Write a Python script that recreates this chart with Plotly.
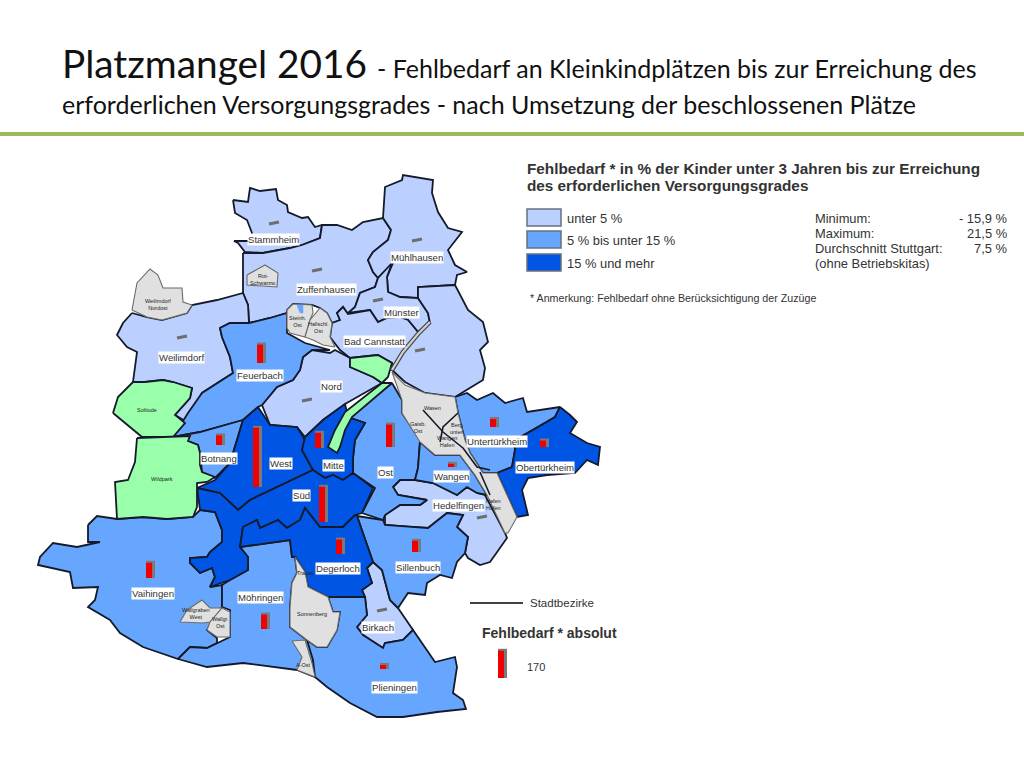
import plotly.graph_objects as go

# Farben der Klassen
hell = '#BBD0FF'
mittel = '#66A6FF'
dunkel = '#0055E5'
gruen = '#99FFAA'
grau = '#E0E0E0'
rand = '#141a2a'

# Stadtbezirke als Umrisse (Bildkoordinaten)
stammheim = [(233,200),(248,202),(250,188),(260,191),(276,189),(278,200),(287,205),(288,212),(302,218),(308,217),(315,227),(322,225),(320,238),(302,245),(290,248),(263,253),(245,252),(238,243),(234,241),(250,241),(252,233),(247,220),(235,213)]
zuffenhausen = [(243,253),(263,253),(290,248),(302,245),(320,238),(322,225),(337,225),(352,230),(363,222),(383,218),(391,230),(388,240),(373,252),(368,260),(373,272),(378,278),(375,287),(360,293),(355,307),(348,314),(343,307),(337,313),(340,320),(332,323),(327,313),(320,308),(312,305),(293,304),(287,310),(287,313),(270,318),(249,323),(248,305),(243,293)]
muehlhausen = [(383,218),(385,187),(402,180),(403,175),(433,180),(432,193),(438,212),(448,228),(462,232),(448,250),(455,265),(467,272),(457,275),(455,285),(418,287),(418,298),(400,297),(388,292),(387,277),(393,263),(378,278),(373,272),(368,260),(373,252),(388,240),(391,230)]
muenster = [(348,313),(355,307),(360,293),(375,287),(378,278),(392,263),(387,277),(388,292),(400,297),(418,298),(428,313),(430,323),(418,332),(408,320),(400,317),(387,318),(378,322),(370,310)]
cannstatt = [(332,323),(340,320),(337,313),(343,307),(348,314),(370,310),(378,322),(387,318),(400,317),(408,320),(418,332),(430,323),(428,313),(418,298),(418,287),(455,285),(468,310),(483,322),(488,342),(480,350),(485,368),(483,380),(455,397),(425,393),(405,382),(392,370),(392,363),(378,355),(350,358),(340,350),(330,337)]
weilimdorf = [(132,313),(147,317),(162,320),(187,313),(192,305),(217,300),(243,293),(248,305),(249,323),(230,323),(220,328),(222,337),(230,357),(233,373),(202,393),(187,422),(175,415),(190,398),(192,388),(173,382),(163,380),(145,382),(133,382),(137,352),(127,347),(117,335),(123,323)]
nord = [(262,405),(277,387),(293,380),(300,370),(303,357),(312,350),(330,353),(335,350),(350,358),(350,367),(373,377),(382,383),(345,404),(323,420),(305,437),(297,427),(270,425)]
hedelfingen = [(393,487),(400,480),(415,480),(433,483),(457,495),(467,487),(477,493),(485,495),(505,533),(507,538),(495,555),(490,562),(480,565),(468,558),(465,553),(468,537),(457,527),(463,515),(447,513),(428,528),(410,527),(385,525),(385,515),(400,505),(420,505),(427,500),(398,495)]
birkach = [(373,562),(382,570),(390,600),(398,608),(413,630),(403,640),(385,643),(383,648),(363,635),(357,627),(367,615),(365,597),(362,590),(372,583),(367,568)]

feuerbach = [(220,328),(230,323),(249,323),(270,318),(287,313),(287,333),(305,343),(330,350),(312,350),(303,357),(300,370),(293,380),(277,387),(262,405),(258,407),(243,420),(200,432),(173,437),(188,413),(202,393),(233,373),(230,357),(222,337)]
botnang = [(173,437),(200,432),(243,420),(237,440),(230,463),(215,478),(202,472),(200,453),(198,445),(188,441)]
ost = [(392,383),(402,400),(402,413),(420,440),(418,468),(415,480),(400,480),(393,487),(398,495),(427,500),(420,505),(400,505),(385,515),(383,520),(362,513),(375,488),(353,473),(353,458),(355,440),(365,423),(348,417)]
wangen = [(420,442),(435,455),(460,455),(475,475),(487,495),(477,493),(467,487),(457,495),(433,483),(415,480),(418,468)]
untertuerkheim = [(455,397),(467,393),(477,400),(493,393),(505,403),(523,398),(527,412),(560,407),(555,417),(533,430),(515,440),(515,450),(512,467),(497,473),(483,473),(470,453),(465,440),(458,413)]
sillenbuch = [(357,516),(383,520),(385,525),(410,527),(428,528),(447,513),(463,515),(457,527),(468,537),(465,553),(457,562),(452,578),(440,575),(427,583),(425,595),(408,593),(398,608),(390,600),(382,570),(373,562),(363,533)]
vaihingen = [(88,525),(97,516),(117,519),(143,517),(167,519),(193,517),(200,510),(215,512),(222,530),(222,542),(210,552),(207,557),(190,558),(190,563),(200,573),(212,568),(215,577),(210,587),(222,585),(222,607),(207,630),(217,638),(217,643),(207,648),(190,647),(178,659),(143,647),(120,633),(110,620),(88,607),(95,600),(98,587),(73,588),(70,572),(38,565),(40,557),(53,543),(77,547),(100,542),(88,542)]
moehringen = [(178,659),(190,647),(207,648),(217,643),(230,637),(230,610),(222,607),(222,585),(230,580),(248,570),(248,557),(240,547),(290,540),(292,557),(295,557),(297,573),(292,583),(290,607),(290,627),(307,640),(317,647),(313,660),(315,677),(297,670),(243,663),(207,667)]
plieningen = [(328,597),(362,597),(365,597),(367,615),(357,627),(363,635),(383,648),(385,643),(403,640),(413,630),(435,662),(455,657),(457,667),(453,693),(463,700),(466,709),(437,712),(403,717),(377,717),(350,703),(327,687),(315,677),(313,660),(307,640),(317,647),(327,647),(337,630),(340,612),(333,612)]

west = [(237,440),(243,420),(258,407),(270,425),(297,427),(305,440),(302,450),(313,470),(250,500),(238,510),(220,493),(197,488),(215,480),(230,463)]
mitte = [(305,437),(323,420),(345,404),(348,417),(365,423),(355,440),(353,458),(353,473),(343,480),(333,475),(325,478),(313,470),(302,450)]
sued = [(197,488),(220,493),(238,510),(250,500),(313,470),(325,478),(333,475),(343,480),(353,473),(373,488),(362,513),(355,515),(343,527),(320,527),(305,508),(300,520),(287,528),(278,520),(260,528),(257,520),(243,527),(240,547),(248,557),(248,570),(230,580),(210,587),(215,577),(212,568),(200,573),(190,563),(190,558),(207,557),(210,552),(222,542),(222,530),(215,512),(200,510)]
degerloch = [(243,527),(257,520),(260,528),(278,520),(287,528),(300,520),(305,508),(320,527),(343,527),(355,515),(357,516),(363,533),(373,562),(367,568),(372,583),(362,590),(365,597),(328,597),(308,587),(305,572),(295,557),(292,557),(290,540),(240,547)]
obertuerkheim = [(560,407),(570,415),(577,422),(570,433),(587,443),(600,447),(598,465),(587,460),(575,473),(547,475),(528,478),(522,490),(528,515),(517,517),(497,473),(512,467),(515,450),(515,440),(533,430),(555,417)]

solitude = [(113,413),(118,397),(133,382),(145,382),(163,380),(173,382),(192,388),(190,398),(175,415),(185,423),(173,437),(142,437)]
wildpark = [(137,438),(173,437),(190,436),(188,441),(198,445),(200,453),(200,465),(202,472),(215,477),(207,482),(197,483),(197,507),(193,517),(167,519),(143,517),(117,519),(115,482),(128,480),(135,462)]
schlossgarten = [(350,358),(378,355),(392,363),(388,377),(382,383),(373,377),(350,367)]
gruenstreifen = [(382,383),(392,383),(352,417),(345,430),(340,447),(337,453),(328,447),(335,430),(345,412)]

nordost = [(132,310),(137,283),(150,269),(158,275),(163,288),(182,288),(183,302),(192,305),(187,313),(162,320),(147,317)]
schnarrenberg = [(247,275),(265,265),(278,273),(277,287),(247,285)]
steinhalde = [(287,310),(293,304),(312,305),(313,313),(310,320),(305,337),(290,333),(287,328)]
hallschlag = [(305,337),(310,320),(320,308),(327,313),(332,323),(330,337),(335,347),(323,345),(313,340)]
wasen = [(392,372),(405,385),(425,393),(455,397),(458,413),(465,440),(470,453),(483,473),(497,473),(517,517),(508,533),(505,533),(487,495),(475,475),(460,455),(435,455),(420,442),(402,413),(402,400)]
wallgraben_west = [(180,622),(187,610),(202,600),(210,608),(222,608),(210,622),(203,623)]
wallgraben_ost = [(210,622),(222,608),(230,612),(230,637),(217,637),(207,630)]
sonnenberg = [(295,557),(305,572),(308,587),(328,597),(333,612),(340,612),(337,630),(327,647),(317,647),(307,640),(290,627),(290,607),(292,583),(297,573)]
asemwald = [(292,641),(305,640),(312,663),(315,677),(297,670),(302,657)]
see = [(297,305),(303,305),(303,313),(300,313)]

# Reihenfolge = Zeichenfolge
bezirke = [
    (stammheim, hell), (zuffenhausen, hell), (muehlhausen, hell), (muenster, hell),
    (cannstatt, hell), (weilimdorf, hell), (nord, hell), (hedelfingen, hell), (birkach, hell),
    (feuerbach, mittel), (botnang, mittel), (ost, mittel), (wangen, mittel),
    (untertuerkheim, mittel), (sillenbuch, mittel), (vaihingen, mittel), (moehringen, mittel),
    (plieningen, mittel), (west, dunkel), (mitte, dunkel), (sued, dunkel), (degerloch, dunkel),
    (obertuerkheim, dunkel), (solitude, gruen), (wildpark, gruen), (schlossgarten, gruen),
    (gruenstreifen, gruen),
]
sonderflaechen = [nordost, schnarrenberg, steinhalde, hallschlag, wasen, wallgraben_west,
                  wallgraben_ost, sonnenberg, asemwald]

# Neckar und Grenzen im Neckartal
neckar = [(430,322),(418,334),(403,352),(392,370)]
grenzen = [
    [(423,410),(443,432),(463,448),(477,467),(490,470)],
    [(458,413),(443,427),(440,442)],
    [(480,472),(490,495)],
]

# Fehlbedarf absolut (Saeulen)
saeule_namen = ['Feuerbach','West','Mitte','Botnang','Süd','Ost','Untertürkheim','Obertürkheim',
                'Degerloch','Sillenbuch','Vaihingen','Möhringen','Wangen','Plieningen','Legende']
saeule_wert = [115,370,95,60,220,140,50,40,90,70,95,90,20,25,170]
saeule_x = [260,256,318,219,322,389,493,543,339,415,149,264,451,383,501]
saeule_fuss = [363,487,448,445,522,447,427,447,554,552,578,629,467,669,678]
saeule_massstab = 0.16

# Bezirke ohne Fehlbedarf: flache graue Marken
marke_x = [274,317,182,307,417,378,420,482,382]
marke_y = [223,270,337,400,240,300,350,517,610]

# Beschriftungen
label_text = ['Stammheim','Zuffenhausen','Mühlhausen','Münster','Bad Cannstatt','Weilimdorf','Feuerbach','Nord',
              'Untertürkheim','Obertürkheim','West','Mitte','Ost','Botnang','Süd','Wangen','Hedelfingen',
              'Degerloch','Sillenbuch','Vaihingen','Möhringen','Birkach','Plieningen']
label_x = [273,326,417,401,374,181,260,331,497,545,281,333,385,219,301,451,458,338,418,153,260,378,394]
label_y = [239,289,257,312,341,357,375,386,441,467,463,465,472,458,495,476,505,568,567,593,597,627,687]
klein_text = ['Solitude','Wildpark','Weilimdorf<br>Nordost','Wasen','Gaisb.<br>Ost','Berg<br>unten','Wangen<br>Hafen','Hafen<br>Hafen','Trassa','Sonnenberg','Wallgraben<br>West','Wallgr.<br>Ost','A-Ost','Rot-<br>Schwarzw.','Steinh.<br>Ost','Hallschl.<br>Ost']
klein_x = [147,162,158,432,418,457,447,493,306,312,196,220,303,263,298,318]
klein_y = [410,479,304,408,427,428,441,504,573,614,613,622,665,279,321,327]

legende_klassen = ['unter 5 %','5 % bis unter 15 %','15 % und mehr']
legende_farben = [hell, mittel, dunkel]
legende_y0 = [209,231,254]
statistik_namen = ['Minimum:','Maximum:','Durchschnitt Stuttgart:','(ohne Betriebskitas)']
statistik_werte = ['- 15,9 %','21,5 %','7,5 %','']
statistik_y = [218,233,248,263]

fig = go.Figure()

def umriss(punkte, farbe, linie, breite):
    xs = [p[0] for p in punkte] + [punkte[0][0]]
    ys = [p[1] for p in punkte] + [punkte[0][1]]
    fig.add_trace(go.Scatter(x=xs, y=ys, mode='lines', fill='toself', fillcolor=farbe,
                             line=dict(color=linie, width=breite), hoverinfo='skip'))

for punkte, farbe in bezirke:
    umriss(punkte, farbe, rand, 1.8)
for punkte in sonderflaechen:
    umriss(punkte, grau, '#6b6b6b', 1.1)
umriss(see, mittel, mittel, 0.5)

fig.add_trace(go.Scatter(x=[p[0] for p in neckar], y=[p[1] for p in neckar], mode='lines',
                         line=dict(color='#444444', width=4.5), hoverinfo='skip'))
fig.add_trace(go.Scatter(x=[p[0] for p in neckar], y=[p[1] for p in neckar], mode='lines',
                         line=dict(color='#cfcfcf', width=2.2), hoverinfo='skip'))
for linie in grenzen:
    fig.add_trace(go.Scatter(x=[p[0] for p in linie], y=[p[1] for p in linie], mode='lines',
                             line=dict(color=rand, width=1.6), hoverinfo='skip'))

# Saeulen: grauer Schatten, rote Front
schatten_x, schatten_y, rot_x, rot_y = [], [], [], []
for x, fuss, wert in zip(saeule_x, saeule_fuss, saeule_wert):
    hoehe = wert * saeule_massstab
    schatten_x += [x + 1.5, x + 1.5, None]
    schatten_y += [fuss, fuss - hoehe - 2, None]
    rot_x += [x, x, None]
    rot_y += [fuss, fuss - hoehe, None]
fig.add_trace(go.Scatter(x=schatten_x, y=schatten_y, mode='lines', line=dict(color='#7a7a7a', width=9), hoverinfo='skip'))
fig.add_trace(go.Scatter(x=rot_x, y=rot_y, mode='lines', line=dict(color='#F00000', width=6), hoverinfo='skip'))

marken_x, marken_y = [], []
for x, y in zip(marke_x, marke_y):
    marken_x += [x - 5, x + 5, None]
    marken_y += [y + 1, y - 1, None]
fig.add_trace(go.Scatter(x=marken_x, y=marken_y, mode='lines', line=dict(color='#6e6e6e', width=3), hoverinfo='skip'))

# Stadtbezirke-Legende
fig.add_trace(go.Scatter(x=[470, 523], y=[603, 603], mode='lines', line=dict(color='black', width=1.5), hoverinfo='skip'))

for t, x, y in zip(label_text, label_x, label_y):
    fig.add_annotation(x=x, y=y, text=t, showarrow=False, bgcolor='white', borderpad=0,
                       font=dict(family='Liberation Sans', size=9.6, color='#333333'))
for t, x, y in zip(klein_text, klein_x, klein_y):
    fig.add_annotation(x=x, y=y, text=t, showarrow=False,
                       font=dict(family='Liberation Sans', size=5.5, color='#222222'))

def text(x, y, t, groesse, anker='left', fett=False, farbe='#333333', schrift='Liberation Sans'):
    if fett:
        t = '<b>' + t + '</b>'
    fig.add_annotation(x=x, y=y, text=t, showarrow=False, xanchor=anker, yanchor='middle',
                       font=dict(family=schrift, size=groesse, color=farbe))

# Titel
fig.add_annotation(x=60, y=63, showarrow=False, xanchor='left', yanchor='middle',
                   text='<span style="font-size:38.8px">Platzmangel 2016 </span>- Fehlbedarf an Kleinkindplätzen bis zur Erreichung des',
                   font=dict(family='Lato', size=25, color='#111111'))
text(60, 104, 'erforderlichen Versorgungsgrades - nach Umsetzung der beschlossenen Plätze', 25, farbe='#111111', schrift='Lato')

# Legende
text(525, 168, 'Fehlbedarf * in % der Kinder unter 3 Jahren bis zur Erreichung', 15.3, fett=True)
text(525, 185, 'des erforderlichen Versorgungsgrades', 15.3, fett=True)
for t, farbe, y0 in zip(legende_klassen, legende_farben, legende_y0):
    fig.add_shape(type='rect', x0=527, x1=561, y0=y0, y1=y0 + 17, fillcolor=farbe, line=dict(color='#667080', width=1.5))
    text(565, y0 + 9, t, 12.9)
for t, w, y in zip(statistik_namen, statistik_werte, statistik_y):
    text(813, y, t, 12.9)
    text(1009, y, w, 12.9, anker='right')
text(528, 298, '* Anmerkung: Fehlbedarf ohne Berücksichtigung der Zuzüge', 10.7)
text(528, 603, 'Stadtbezirke', 11.5)
text(480, 633, 'Fehlbedarf * absolut', 14, fett=True)
text(525, 667, '170', 11)

# gruene Linie unter dem Titel
fig.add_shape(type='rect', x0=0, x1=1024, y0=132, y1=136, fillcolor='#9BBB59', line=dict(width=0))

fig.update_xaxes(range=[0, 1024], visible=False, fixedrange=True)
fig.update_yaxes(range=[768, 0], visible=False, fixedrange=True)
fig.update_layout(width=1024, height=768, margin=dict(l=0, r=0, t=0, b=0), showlegend=False,
                  plot_bgcolor='white', paper_bgcolor='white')

# Seitenrand des Browsers entfernen
fig.write_html("out.html", config={'displayModeBar': False},
               post_script="document.body.style.margin='0';document.body.style.overflow='hidden';")
